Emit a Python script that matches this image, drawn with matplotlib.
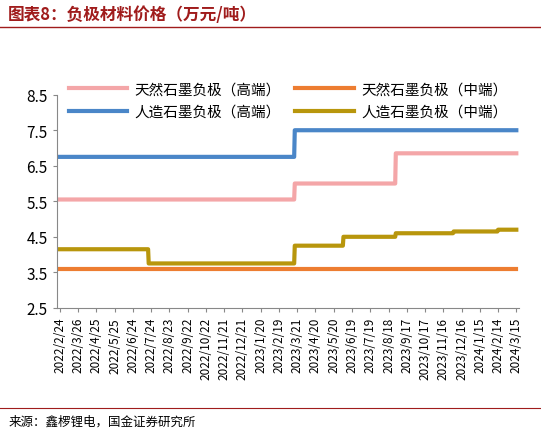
import matplotlib
matplotlib.use("Agg")
import matplotlib.pyplot as plt
import pandas as pd

plt.rcParams['font.family'] = ['Noto Sans CJK SC', 'DejaVu Sans']

start, end = "2022-02-24", "2024-03-15"
hi_nat_dates = ["2022-02-24", "2023-03-17", "2023-08-30"]
hi_nat_vals = [5.55, 6.0, 6.85]
mid_nat_dates = ["2022-02-24"]
mid_nat_vals = [3.6]
hi_art_dates = ["2022-02-24", "2023-03-17"]
hi_art_vals = [6.75, 7.5]
mid_art_dates = ["2022-02-24", "2022-07-20", "2023-03-17", "2023-06-05", "2023-08-30", "2023-12-03", "2024-02-14"]
mid_art_vals = [4.15, 3.75, 4.25, 4.5, 4.6, 4.65, 4.7]

names = ["天然石墨负极（高端）", "天然石墨负极（中端）", "人造石墨负极（高端）", "人造石墨负极（中端）"]
colors = ["#F4A6A8", "#ED7D31", "#4A86C8", "#B8960C"]

days = pd.date_range(start, end, freq="D")
def series(d, v):
    return pd.Series(v, index=pd.to_datetime(d)).reindex(days, method="ffill")

fig = plt.figure(figsize=(5.41, 4.35), dpi=100)
ax = fig.add_axes([0.105, 0.29, 0.855, 0.49])
handles = []
for (d, v), n, c in zip([(hi_nat_dates, hi_nat_vals), (mid_nat_dates, mid_nat_vals),
                          (hi_art_dates, hi_art_vals), (mid_art_dates, mid_art_vals)], names, colors):
    s = series(d, v)
    h, = ax.plot(s.index, s.values, color=c, lw=3, label=n)
    handles.append(h)

ax.set_ylim(2.5, 8.5)
ax.set_yticks([2.5, 3.5, 4.5, 5.5, 6.5, 7.5, 8.5])
ax.set_yticklabels(["2.5", "3.5", "4.5", "5.5", "6.5", "7.5", "8.5"], fontsize=11)
ticks = pd.date_range(start, periods=26, freq="30D")
ax.set_xticks(ticks)
ax.set_xticklabels([f"{t.year}/{t.month}/{t.day}" for t in ticks], rotation=90, fontsize=8.5)
ax.set_xlim(pd.Timestamp(start) - pd.Timedelta(days=5), pd.Timestamp(end) + pd.Timedelta(days=5))
for sp in ["top", "right"]:
    ax.spines[sp].set_visible(False)
ax.spines["left"].set_color("#888888")
ax.spines["bottom"].set_color("#888888")
ax.tick_params(length=3, color="#888888")
order = [0, 2, 1, 3]
ax.legend([handles[i] for i in order], [names[i] for i in order],
          loc="upper center", bbox_to_anchor=(0.5, 1.12), ncol=2, frameon=False,
          fontsize=10.5, handlelength=4, columnspacing=1.0, handletextpad=0.5, labelspacing=0.6)

fig.text(0.015, 0.965, "图表8：负极材料价格（万元/吨）", fontsize=12, fontweight="bold",
         color="#A01C1C", style="italic", va="center")
fig.add_artist(plt.Line2D([0.0, 1.0], [0.935, 0.935], color="#A01C1C", lw=1))
fig.add_artist(plt.Line2D([0.0, 1.0], [0.06, 0.06], color="#A01C1C", lw=0.8))
fig.text(0.015, 0.03, "来源：鑫椤锂电，国金证券研究所", fontsize=9, va="center")
fig.savefig("out.png")
